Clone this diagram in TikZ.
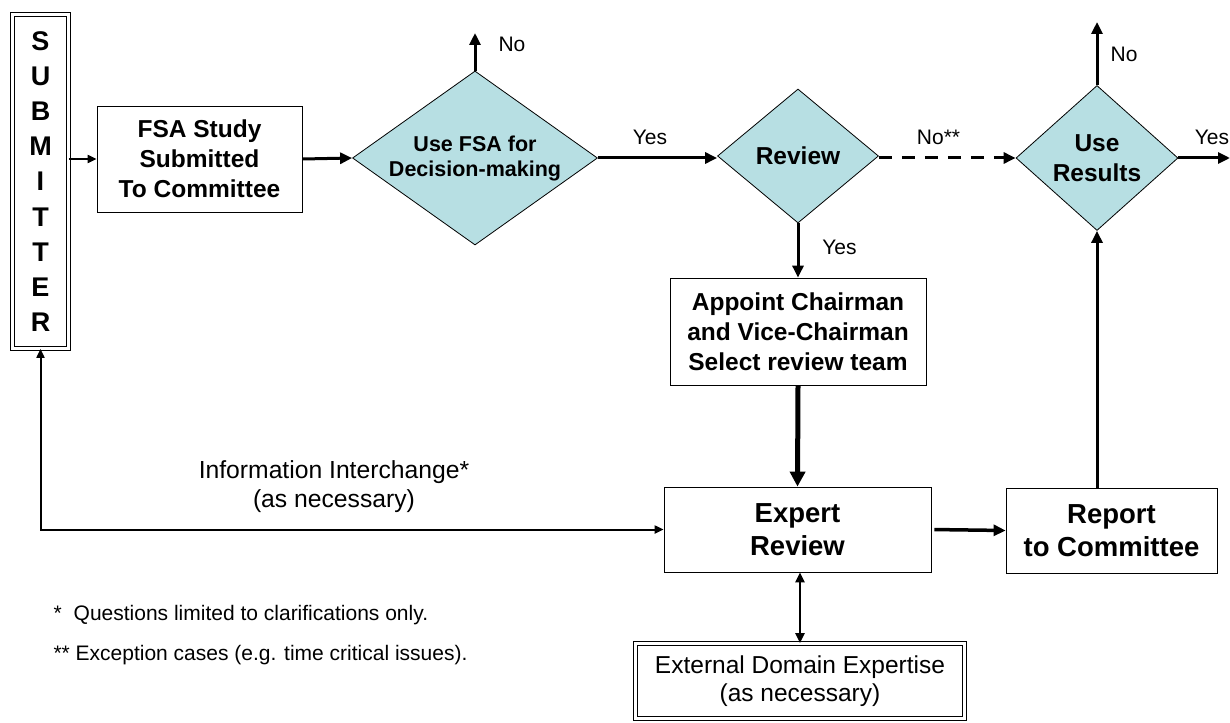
\documentclass[tikz,border=0pt]{standalone}
\usepackage{fontspec}
\setmainfont{Liberation Sans}
\usetikzlibrary{shapes.geometric,arrows.meta}
\definecolor{decideblue}{RGB}{183,223,227}

\begin{document}
\begin{tikzpicture}[x=1pt,y=-1pt,
  box/.style={draw,line width=0.8pt,inner sep=0pt,align=center,font=\fontsize{24.5}{30}\selectfont\bfseries},
  dbox/.style={box,double,double distance=2.5pt},
  decide/.style={diamond,draw,line width=0.8pt,fill=decideblue,inner sep=0pt,align=center,font=\fontsize{24.5}{30}\selectfont\bfseries},
  lbl/.style={font=\fontsize{21}{25}\selectfont},
  flow/.style={line width=3pt,-{Triangle[length=12pt,width=11pt]}},
  thinflow/.style={line width=2pt,-{Triangle[length=9pt,width=8pt]}}]

\useasboundingbox (0,0) rectangle (1230,722);

\node[dbox,minimum width=56pt,minimum height=334pt,font=\fontsize{27}{35.2}\selectfont\bfseries] (submitter) at (40.5,181.5) {S\\U\\B\\M\\I\\T\\T\\E\\R};
\node[box,minimum width=205pt,minimum height=106pt] (fsa) at (199.5,159) {FSA Study\\Submitted\\To Committee};

\node[decide,aspect=1.41,minimum width=245pt,minimum height=174pt,font=\fontsize{21.5}{25}\selectfont\bfseries] (use) at (475,158) {Use FSA for\\Decision-making};
\node[decide,aspect=1.2,minimum width=161pt,minimum height=134pt] (review) at (798,156) {Review};
\node[decide,aspect=1.12,minimum width=162pt,minimum height=145pt] (results) at (1097,158) {Use\\Results};

\node[box,minimum width=256pt,minimum height=107pt] (appoint) at (798,331.5) {Appoint Chairman\\and Vice-Chairman\\Select review team};
\node[box,minimum width=267pt,minimum height=85pt,font=\fontsize{27.5}{33}\selectfont\bfseries] (expert) at (797.5,529.5) {Expert\\Review};
\node[box,minimum width=211pt,minimum height=85pt,font=\fontsize{27.5}{33}\selectfont\bfseries] (report) at (1111.5,530.5) {Report\\to Committee};
\node[dbox,minimum width=329pt,minimum height=75pt,font=\fontsize{24.5}{28}\selectfont\mdseries] (external) at (800,681) {External Domain Expertise\\(as necessary)};

\coordinate (useno) at (475,33);
\coordinate (resultsno) at (1097,22);
\coordinate (resultsyes) at (1230,158);

% main flow
\draw[thinflow] (submitter.east |- fsa.west) -- (fsa.west);
\draw[flow] (fsa.east) -- (use.west);
\draw[flow] (use.north) -- (useno);
\draw[flow] (use.east) -- (review.west |- use.east);
\draw[line width=3pt,dash pattern=on 13pt off 10pt,-{Triangle[length=12pt,width=11pt]}] (review.east |- results.west) -- (results.west);
\draw[flow] (results.north) -- (resultsno);
\draw[flow] (results.east) -- (resultsyes);
\draw[flow] (review.south) -- (appoint.north);
\draw[line width=5pt,-{Triangle[length=15pt,width=15pt]}] (appoint.south) -- (expert.north);
\draw[line width=3.5pt,-{Triangle[length=12pt,width=11pt]},shorten <=3pt] (expert.east) -- (report.west);
\draw[flow] (results.south |- report.north) -- (results.south);

% feedback
\draw[thinflow,{Triangle[length=9pt,width=8pt]}-{Triangle[length=9pt,width=8pt]}] (expert.west) -- (submitter.south |- expert.west) -- (submitter.south);
\draw[line width=2.5pt,{Triangle[length=10pt,width=9pt]}-{Triangle[length=10pt,width=9pt]}] (external.north |- expert.south) -- (external.north);

\node[lbl] (usenolbl) at (512,44.5) {No};
\node[lbl] (useyeslbl) at (650,137) {Yes};
\node[lbl] (reviewnolbl) at (938.5,137) {No**};
\node[lbl] (reviewyeslbl) at (839.5,247.5) {Yes};
\node[lbl] (resultsnolbl) at (1124,54.5) {No};
\node[lbl] (resultsyeslbl) at (1212,137) {Yes};

\node[font=\fontsize{24.7}{29}\selectfont,align=center] (infolbl) at (334,487) {Information Interchange*\\(as necessary)};

\node[lbl,anchor=base west] (note1) at (50,620) {*\hspace{12pt}Questions limited to clarifications only.};
\node[lbl,anchor=base west] (note2) at (50,660) {** Exception cases (e.g. time critical issues).};
\end{tikzpicture}
\end{document}
